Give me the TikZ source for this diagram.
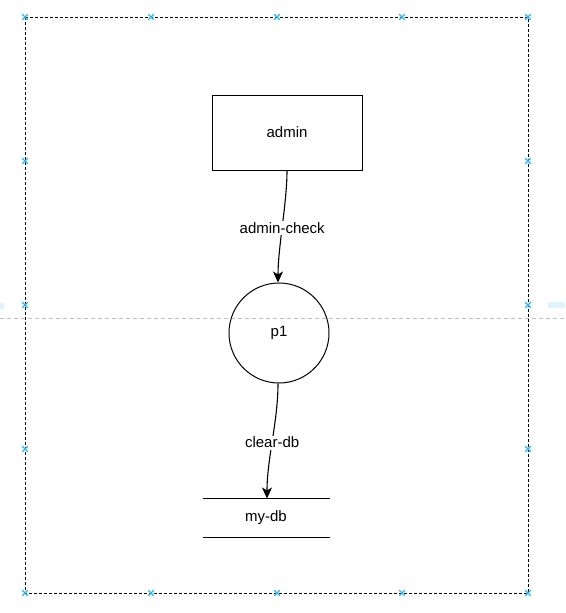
\documentclass[tikz,border=0pt]{standalone}
\usepackage{fontspec}
\setmainfont{Liberation Sans}
\usetikzlibrary{arrows.meta,positioning,calc}
\definecolor{markblue}{RGB}{41,182,242}
\definecolor{guidegray}{RGB}{192,192,192}
\definecolor{guideblue}{RGB}{222,243,252}

\begin{document}
\begin{tikzpicture}[x=1pt,y=-1pt,font=\fontsize{15}{18}\selectfont,line width=1pt,
proc/.style={draw,minimum width=150pt,minimum height=75pt},
bubble/.style={draw,circle,minimum size=100pt,inner sep=0pt},
store/.style={minimum width=126pt,minimum height=38pt},
lbl/.style={fill=white,inner sep=1.5pt},
arr/.style={-{Stealth[length=11pt,width=10pt,inset=3pt]},line width=1.1pt}]
\useasboundingbox (0,0) rectangle (565,613);
% guides
\fill[guideblue] (0,303) rectangle (4,309); \fill[guideblue] (548,302) rectangle (565,308);
\draw[guidegray,dash pattern=on 4pt off 3pt] (0,318) -- (565,318);
\draw[dash pattern=on 3pt off 2pt] (25,17) rectangle (528,593);
\foreach \x in {25,151,277,402,528} {\foreach \y in {17,593} {\draw[markblue,line width=1.2pt] (\x-2.8,\y-2.8) -- (\x+2.8,\y+2.8) (\x-2.8,\y+2.8) -- (\x+2.8,\y-2.8);}}
\foreach \y in {161,305,449} {\foreach \x in {25,528} {\draw[markblue,line width=1.2pt] (\x-2.8,\y-2.8) -- (\x+2.8,\y+2.8) (\x-2.8,\y+2.8) -- (\x+2.8,\y-2.8);}}
% nodes
\node[proc](admin) at (287,132.5){admin}; \node[bubble](p1) at (279,333){p1}; \node[store](db) at (266,518){my-db};
\draw (db.north west) -- (db.north east); \draw (db.south west) -- (db.south east);
% flows
\draw[arr] (admin.south) .. controls ($(admin.south)+(0,32)$) and ($(p1.north)+(-1,-35)$) .. node[lbl,pos=0.52]{admin-check} ($(p1.north)+(-1,0)$);
\draw[arr] ($(p1.south)+(-1,0)$) .. controls ($(p1.south)+(-1,38)$) and ($(db.north)+(1,-40)$) .. node[lbl,pos=0.52]{clear-db} ($(db.north)+(1,0)$);
\end{tikzpicture}
\end{document}
